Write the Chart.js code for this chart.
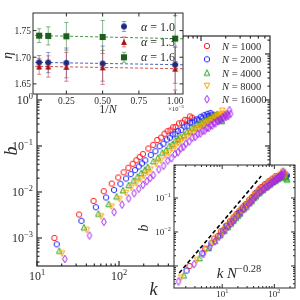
<!DOCTYPE html>
<html><head><meta charset="utf-8">
<script src="https://cdn.jsdelivr.net/npm/chart.js@4/dist/chart.umd.min.js"></script>
<style>
html,body{margin:0;padding:0;background:#fff;}
#wrap{position:relative;width:300px;height:300px;overflow:hidden;}
canvas{position:absolute;left:0;top:0;}
</style></head><body>
<div id="wrap">
<canvas id="main" width="300" height="300"></canvas>
<canvas id="ins1" width="300" height="300"></canvas>
<canvas id="ins2" width="300" height="300"></canvas>
</div>
<script>
// ---------------- data ----------------
const seriesN = [1000, 2000, 4000, 8000, 16000];
const seriesLabels = ['N = 1000', 'N = 2000', 'N = 4000', 'N = 8000', 'N = 16000'];

const kRed=[16.3,32.6,48.9,65.2,81.5,97.8,114,130,147,163,179,196,228,261,293,326,359,391,424,456,489,538,587,636,685,734,782];
const bRed=[0.00100,0.00323,0.0064,0.0104,0.0152,0.0207,0.0268,0.0336,0.0410,0.0490,0.0575,0.0667,0.088,0.106,0.135,0.152,0.185,0.21,0.218,0.255,0.258,0.31,0.32,0.37,0.36,0.44,0.41];

const kBlue=[17.4,34.8,52.2,69.6,87,104,122,139,157,174,191,209,244,278,313,348,383,418,452,487,522,574,626,679,731,783,835,887,940,992,1044,1096,1148,1201,1253,1305,1357,1409,1462];
const bBlue=[0.00073,0.00236,0.00467,0.0076,0.0111,0.0151,0.0196,0.0245,0.0299,0.0358,0.0420,0.0487,0.064,0.077,0.099,0.112,0.138,0.152,0.178,0.185,0.212,0.225,0.265,0.275,0.32,0.325,0.36,0.38,0.37,0.43,0.41,0.47,0.44,0.50,0.45,0.52,0.48,0.44,0.46];

const kGreen=[18.7,37.4,56.1,74.8,93.5,112,131,150,168,187,206,224,262,299,337,374,411,449,486,524,561,617,673,729,785,842,898,954,1010,1066,1122,1178,1234,1290,1346,1403,1459,1515,1571,1627,1683,1739,1795];
const bGreen=[0.00053,0.00171,0.00339,0.00552,0.00805,0.01095,0.01421,0.0178,0.0217,0.0260,0.0305,0.0353,0.047,0.056,0.072,0.081,0.101,0.111,0.134,0.143,0.163,0.174,0.205,0.212,0.247,0.252,0.29,0.295,0.33,0.32,0.37,0.36,0.41,0.39,0.44,0.42,0.48,0.44,0.50,0.46,0.42,0.38,0.35];

const kOrange=[20.2,40.4,60.6,80.8,101,121,141,162,182,202,222,242,283,323,364,404,444,485,525,566,606,667,727,788,848,909,970,1030,1091,1151,1212,1273,1333,1394,1454,1515,1576,1636,1697,1757,1818,1879,1939,2000];
const bOrange=[0.00046,0.00148,0.00294,0.00479,0.00698,0.0095,0.01233,0.01545,0.01886,0.0225,0.0265,0.0307,0.041,0.048,0.063,0.070,0.088,0.096,0.117,0.125,0.148,0.160,0.187,0.195,0.226,0.231,0.265,0.268,0.305,0.307,0.34,0.33,0.375,0.37,0.42,0.40,0.45,0.43,0.49,0.46,0.58,0.48,0.50,0.45];

const kPurple=[21.8,43.6,65.4,87.2,109,131,153,174,196,218,240,262,305,349,392,436,480,523,567,610,654,719,785,850,916,981,1046,1112,1177,1243,1308,1373,1439,1504,1570,1635,1700,1766,1831,1897,1962,2027,2093,2158,2224,2289];
const bPurple=[0.00035,0.00113,0.00224,0.00364,0.00531,0.00723,0.00938,0.01176,0.01435,0.01714,0.0201,0.0233,0.031,0.037,0.048,0.054,0.067,0.073,0.089,0.095,0.113,0.125,0.152,0.157,0.184,0.187,0.215,0.217,0.248,0.247,0.283,0.278,0.318,0.31,0.352,0.345,0.38,0.37,0.42,0.40,0.46,0.43,0.49,0.45,0.60,0.50];

const collapseExponent = -0.28;

// top-left inset: eta vs 1/N (x in units of 1e-3)
const invN = [0.0625, 0.125, 0.25, 0.5, 1.0];
const alphaLabels = ['\u03b1 = 1.0', '\u03b1 = 1.3', '\u03b1 = 1.6'];
const eta10 = [1.6903, 1.6900, 1.6893, 1.6880, 1.6860];
const err10 = [0.013, 0.019, 0.028, 0.033, 0.035];
const eta13 = [1.6830, 1.6826, 1.6820, 1.6810, 1.6785];
const err13 = [0.015, 0.020, 0.027, 0.032, 0.040];
const eta16 = [1.7405, 1.7400, 1.7393, 1.7380, 1.7350];
const err16 = [0.013, 0.017, 0.026, 0.031, 0.043];
const fitX = [0, 1.1];
const fit10 = [1.6906, 1.6856];
const fit13 = [1.6831, 1.6781];
const fit16 = [1.7410, 1.7343];

// bottom-right inset guide line
const guideX = [1.5, 56];
const guideB = [0.00062, 0.44];

// tick labels
const mainXTicks = [10, 100, 1000];
const mainXTickLabels = ['10^1', '10^2', '10^3'];
const mainYTicks = [0.001, 0.01, 0.1, 1];
const mainYTickLabels = ['10^-3', '10^-2', '10^-1', '10^0'];
const in1XTicks = [0.25, 0.5, 0.75, 1.0];
const in1XTickLabels = ['0.25', '0.50', '0.75', '1.00'];
const in1YTicks = [1.65, 1.70, 1.75];
const in1YTickLabels = ['1.65', '1.70', '1.75'];
const in2XTicks = [10, 100];
const in2XTickLabels = ['10^1', '10^2'];
const in2YTicks = [0.01, 0.1];
const in2YTickLabels = ['10^-2', '10^-1'];

// ---------------- helpers ----------------
const FONT = "'Liberation Serif','DejaVu Serif',serif";
const TXT = '#2a2a2a';
function fnt(s, it){ return (it ? 'italic ' : '') + s + 'px ' + FONT; }
function rich(ctx, parts, x, y, align){
  let w = 0;
  for (const p of parts){ ctx.font = fnt(p.s, p.it); p.w = ctx.measureText(p.t).width; w += p.w; }
  let cx = align === 'center' ? x - w/2 : (align === 'right' ? x - w : x);
  ctx.textAlign = 'left'; ctx.textBaseline = 'alphabetic'; ctx.fillStyle = TXT;
  for (const p of parts){ ctx.font = fnt(p.s, p.it); ctx.fillText(p.t, cx, y - (p.up || 0)); cx += p.w; }
}
function tickParts(label, s){
  const i = label.indexOf('^');
  if (i < 0) return [{t: label, s}];
  return [{t: label.slice(0, i), s}, {t: label.slice(i+1).replace('-', '\u2212'), s: s*0.7, up: s*0.42}];
}
function ln(ctx, x1, y1, x2, y2){ ctx.beginPath(); ctx.moveTo(x1, y1); ctx.lineTo(x2, y2); ctx.stroke(); }
function logTicks(min, max){
  const out = [];
  for (let e = Math.floor(Math.log10(min)); e <= Math.ceil(Math.log10(max)); e++)
    for (let m = 1; m < 10; m++){ const v = m*Math.pow(10, e); if (v >= min && v <= max) out.push({v, major: m === 1}); }
  return out;
}
function frame(chart, xt, yt, maj, mnr, lw){
  const {ctx, chartArea: a, scales: {x, y}} = chart;
  ctx.save(); ctx.strokeStyle = '#2a2a2a'; ctx.lineWidth = lw;
  for (const t of xt){ const p = x.getPixelForValue(t.v); if (p < a.left || p > a.right) continue;
    const L = t.major ? maj : mnr; ln(ctx, p, a.bottom, p, a.bottom - L); ln(ctx, p, a.top, p, a.top + L); }
  for (const t of yt){ const p = y.getPixelForValue(t.v); if (p < a.top || p > a.bottom) continue;
    const L = t.major ? maj : mnr; ln(ctx, a.left, p, a.left + L, p); ln(ctx, a.right, p, a.right - L, p); }
  ctx.strokeRect(a.left, a.top, a.right - a.left, a.bottom - a.top);
  ctx.restore();
}
function drawMarker(g, shape, cx, cy, color, fill, sc){
  sc = sc || 1;
  g.save(); g.strokeStyle = color; g.fillStyle = color; g.lineWidth = 1; g.beginPath();
  if (shape === 'o'){ g.arc(cx, cy, 2.7*sc, 0, Math.PI*2); }
  else if (shape === 'h'){ for (let k = 0; k < 6; k++){ const an = Math.PI/2 + k*Math.PI/3; const px = cx + 2.9*sc*Math.cos(an), py = cy - 2.9*sc*Math.sin(an); if (k) g.lineTo(px, py); else g.moveTo(px, py); } g.closePath(); }
  else if (shape === '^'){ const r = 2.8*sc; g.moveTo(cx, cy - r); g.lineTo(cx + r, cy + r); g.lineTo(cx - r, cy + r); g.closePath(); }
  else if (shape === 'v'){ const r = 2.8*sc; g.moveTo(cx, cy + r); g.lineTo(cx + r, cy - r); g.lineTo(cx - r, cy - r); g.closePath(); }
  else if (shape === 'd'){ g.moveTo(cx, cy - 3.8*sc); g.lineTo(cx + 2.3*sc, cy); g.lineTo(cx, cy + 3.8*sc); g.lineTo(cx - 2.3*sc, cy); g.closePath(); }
  else if (shape === 's'){ g.rect(cx - 2.9*sc, cy - 2.9*sc, 5.8*sc, 5.8*sc); }
  if (fill) g.fill(); else g.stroke();
  g.restore();
}
function markerCanvas(shape, color, fill, sc){
  const S = 12, c = document.createElement('canvas'); c.width = S; c.height = S;
  drawMarker(c.getContext('2d'), shape, S/2, S/2, color, fill, sc); return c;
}

const colors = ['#ff2121', '#2424ff', '#1fa31f', '#ffa500', '#a626f2'];
const shapes = ['o', 'h', '^', 'v', 'd'];
const kAll = [kRed, kBlue, kGreen, kOrange, kPurple];
const bAll = [bRed, bBlue, bGreen, bOrange, bPurple];
const mStyles = shapes.map((s, i) => markerCanvas(s, colors[i], false, 1));

function seriesDatasets(scaleX){
  return kAll.map((ks, si) => ({
    data: ks.map((k, j) => ({x: scaleX ? k*Math.pow(seriesN[si], collapseExponent) : k, y: bAll[si][j]})),
    pointStyle: mStyles[si], pointRadius: 3, showLine: false, order: 10 - si
  }));
}

function makeChart(id, padding, xs, ys, datasets, plugins){
  return new Chart(document.getElementById(id), {
    type: 'scatter',
    data: {datasets},
    options: {
      responsive: false, animation: false, devicePixelRatio: 1, events: [],
      layout: {padding},
      scales: {
        x: Object.assign({display: false}, xs),
        y: Object.assign({display: false}, ys)
      },
      plugins: {legend: {display: false}, tooltip: {enabled: false}}
    },
    plugins
  });
}
const whiteBg = {id: 'whiteBg', beforeDraw(c){ const a = c.chartArea; c.ctx.save(); c.ctx.fillStyle = '#fff'; c.ctx.fillRect(a.left, a.top, a.right - a.left, a.bottom - a.top); c.ctx.restore(); }};

// ---------------- main chart ----------------
const mainRange = {x: {type: 'logarithmic', min: 10, max: 6935}, y: {type: 'logarithmic', min: 2.46e-4, max: 24.6}};
makeChart('main', {left: 37, top: 36, right: 30, bottom: 34}, mainRange.x, mainRange.y, seriesDatasets(false), [{
  id: 'mainDeco',
  afterDraw(c){
    const ctx = c.ctx, a = c.chartArea, x = c.scales.x, y = c.scales.y;
    frame(c, logTicks(10, 6935), logTicks(2.46e-4, 24.6), 5, 2.5, 1.2);
    mainXTicks.forEach((v, i) => rich(ctx, tickParts(mainXTickLabels[i], 12), x.getPixelForValue(v), 280, 'center'));
    mainYTicks.forEach((v, i) => rich(ctx, tickParts(mainYTickLabels[i], 12), 33, y.getPixelForValue(v) + 4.5, 'right'));
    rich(ctx, [{t: 'k', s: 18, it: true}], (a.left + a.right)/2, 295, 'center');
    ctx.save(); ctx.translate(17, (a.top + a.bottom)/2); ctx.rotate(-Math.PI/2);
    rich(ctx, [{t: 'b', s: 18, it: true}], 0, 0, 'center'); ctx.restore();
    // legend
    seriesLabels.forEach((lab, i) => {
      const yy = 46 + i*13.3;
      ctx.drawImage(mStyles[i], 207 - 6, yy - 6);
      const parts = lab.split(' = ');
      rich(ctx, [{t: parts[0], s: 10.5, it: true}, {t: ' = ' + parts[1], s: 10.5}], 222, yy + 4, 'left');
    });
  }
}]);

// ---------------- top-left inset ----------------
const aColors = ['#1c2a82', '#a81212', '#1d5f1d'];
const aErrColors = ['rgba(60,80,170,0.55)', 'rgba(180,50,50,0.55)', 'rgba(50,120,50,0.55)'];
const aLineColors = ['rgba(45,70,170,0.85)', 'rgba(200,50,50,0.85)', 'rgba(40,130,40,0.85)'];
const aShapes = ['o', '^', 's'];
const aEta = [eta10, eta13, eta16], aErr = [err10, err13, err16], aFit = [fit10, fit13, fit16];
const aStyles = aShapes.map((s, i) => markerCanvas(s, aColors[i], true, s === 'o' ? 1.1 : 1.05));
const in1Sets = [];
aFit.forEach((fv, i) => in1Sets.push({data: fitX.map((xv, j) => ({x: xv, y: fv[j]})), showLine: true, borderColor: aLineColors[i], borderDash: [3, 2], borderWidth: 1, pointRadius: 0, order: 20 + i}));
aEta.forEach((ev, i) => in1Sets.push({data: invN.map((xv, j) => ({x: xv, y: ev[j]})), pointStyle: aStyles[i], pointRadius: 3, showLine: false, order: 3 - i}));
makeChart('ins1', {left: 33, top: 13, right: 117, bottom: 206}, {type: 'linear', min: 0.02, max: 1.054}, {type: 'linear', min: 1.631, max: 1.783}, in1Sets, [whiteBg, {
  id: 'errbars',
  beforeDatasetsDraw(c){
    const ctx = c.ctx, x = c.scales.x, y = c.scales.y, a = c.chartArea;
    ctx.save(); ctx.beginPath(); ctx.rect(a.left, a.top, a.right - a.left, a.bottom - a.top); ctx.clip();
    ctx.lineWidth = 1;
    aEta.forEach((ev, i) => {
      ctx.strokeStyle = aErrColors[i];
      ev.forEach((v, j) => {
        const px = x.getPixelForValue(invN[j]), y1 = y.getPixelForValue(v + aErr[i][j]), y2 = y.getPixelForValue(v - aErr[i][j]);
        ln(ctx, px, y1, px, y2); ln(ctx, px - 2.2, y1, px + 2.2, y1); ln(ctx, px - 2.2, y2, px + 2.2, y2);
      });
    });
    ctx.restore();
  },
  afterDraw(c){
    const ctx = c.ctx, a = c.chartArea, x = c.scales.x, y = c.scales.y;
    frame(c, in1XTicks.map(v => ({v, major: true})), in1YTicks.map(v => ({v, major: true})), 3.5, 2, 1);
    in1XTicks.forEach((v, i) => rich(ctx, tickParts(in1XTickLabels[i], 9.5), x.getPixelForValue(v), 103.5, 'center'));
    in1YTicks.forEach((v, i) => rich(ctx, tickParts(in1YTickLabels[i], 9.5), 31, y.getPixelForValue(v) + 3.3, 'right'));
    rich(ctx, [{t: '\u00d710', s: 6.5}, {t: '\u22123', s: 5, up: 3}], 176, 111, 'center');
    rich(ctx, [{t: '1/', s: 12}, {t: 'N', s: 12, it: true}], (a.left + a.right)/2, 113, 'center');
    ctx.save(); ctx.translate(12, (a.top + a.bottom)/2 + 2); ctx.rotate(-Math.PI/2);
    rich(ctx, [{t: '\u03b7', s: 14, it: true}], 0, 0, 'center'); ctx.restore();
    // legend
    alphaLabels.forEach((lab, i) => {
      const yy = 26.5 + i*15.4, xx = 124;
      ctx.save(); ctx.strokeStyle = aErrColors[i]; ctx.lineWidth = 1;
      ln(ctx, xx, yy - 5, xx, yy + 5); ln(ctx, xx - 2.2, yy - 5, xx + 2.2, yy - 5); ln(ctx, xx - 2.2, yy + 5, xx + 2.2, yy + 5);
      ctx.restore();
      ctx.drawImage(aStyles[i], xx - 6, yy - 6);
      const parts = lab.split(' = ');
      rich(ctx, [{t: parts[0], s: 12, it: true}, {t: ' = ' + parts[1], s: 12}], 141, yy + 4, 'left');
    });
  }
}]);

// ---------------- bottom-right inset ----------------
const in2Sets = seriesDatasets(true);
in2Sets.push({data: guideX.map((xv, j) => ({x: xv, y: guideB[j]})), showLine: true, borderColor: '#000', borderDash: [4, 2.5], borderWidth: 1.6, pointRadius: 0, order: 0});
makeChart('ins2', {left: 174, top: 165, right: 3, bottom: 12}, {type: 'logarithmic', min: 1.19, max: 249}, {type: 'logarithmic', min: 2.25e-4, max: 0.933}, in2Sets, [whiteBg, {
  id: 'in2Deco',
  afterDraw(c){
    const ctx = c.ctx, a = c.chartArea, x = c.scales.x, y = c.scales.y;
    frame(c, logTicks(1.19, 249), logTicks(2.25e-4, 0.933), 4, 2, 1);
    in2XTicks.forEach((v, i) => rich(ctx, tickParts(in2XTickLabels[i], 9), x.getPixelForValue(v), 297, 'center'));
    in2YTicks.forEach((v, i) => rich(ctx, tickParts(in2YTickLabels[i], 9), 171, y.getPixelForValue(v) + 3, 'right'));
    ctx.save(); ctx.translate(148, 228); ctx.rotate(-Math.PI/2);
    rich(ctx, [{t: 'b', s: 14, it: true}], 0, 0, 'center'); ctx.restore();
    rich(ctx, [{t: 'k', s: 15, it: true}, {t: ' ', s: 15}, {t: 'N', s: 15, it: true}, {t: '\u22120.28', s: 10.5, up: 6.5}], 239, 278, 'center');
  }
}]);
</script>
</body></html>
